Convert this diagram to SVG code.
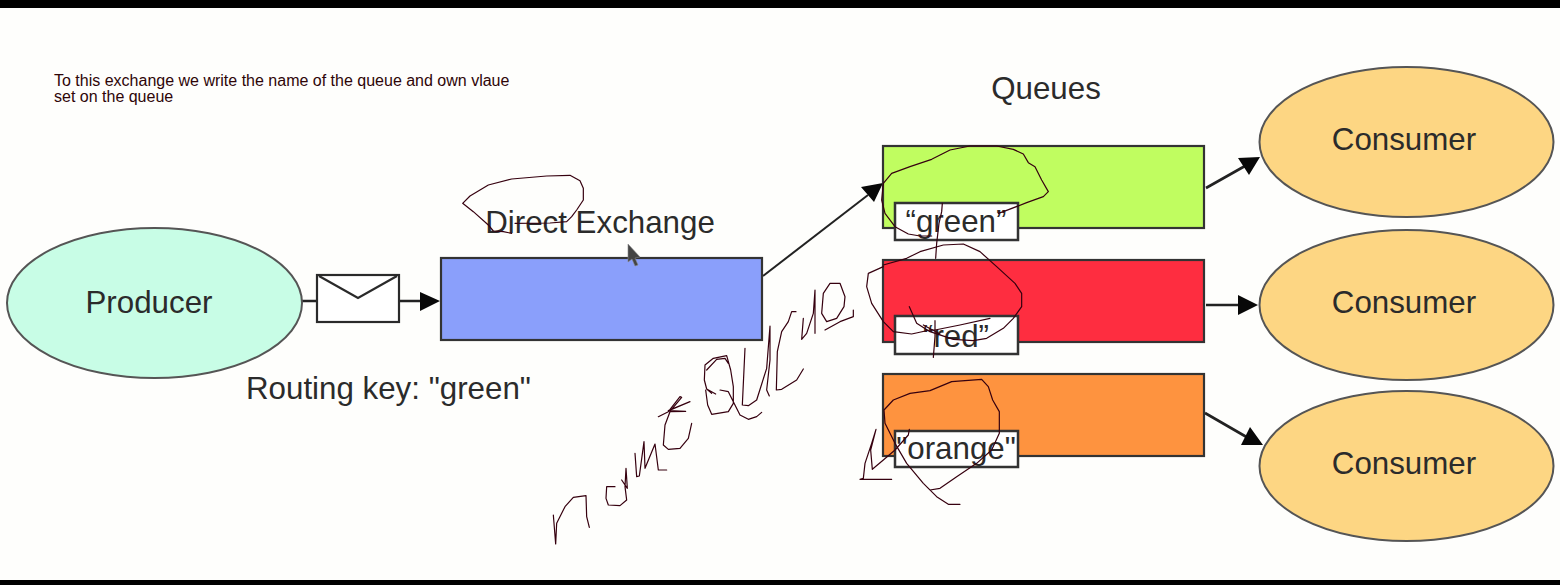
<svg xmlns="http://www.w3.org/2000/svg" width="1560" height="585" viewBox="0 0 1560 585">
<defs><style>
text{font-family:"Liberation Sans",Arial,sans-serif;fill:#2b2b2b;font-size:31.300px}
.c{text-anchor:middle}
.el{stroke:#555;stroke-width:2}
.cons{fill:#fdd683}
.box{stroke:#333;stroke-width:2.2}
.lab{fill:#fff;stroke:#333;stroke-width:2.500}
.line{fill:none;stroke:#222;stroke-width:2.600}
.thin{stroke-width:2}
.head{fill:#080808}
.ink{fill:none;stroke:#36000f;stroke-width:3.600;stroke-linejoin:round;stroke-linecap:round}
.note{font-size:16px;fill:#2e0508}
</style></defs>
<rect width="1560" height="585" fill="#fefefc"/>
<rect width="1560" height="8" fill="#000"/>
<rect y="580" width="1560" height="5" fill="#000"/>
<g id="note"><text class="note" x="54" y="86">To this exchange we write the name of the queue and own vlaue</text><text class="note" x="54" y="102">set on the queue</text></g>
<g id="connectors">
<path class="line" d="M302 301H317M399 301H422M1206 188L1245 166M1206 305H1240M1205 413L1250 439"/>
<path class="line thin" d="M763 276L868 195"/>
<path class="head" d="M420 292L440 301L420 311ZM883 183L861 187L874 202ZM1260 157L1238 158L1249 175ZM1258 305L1238 295L1238 315ZM1263 445L1250 427L1241 445Z"/>
</g>
<g id="producer"><ellipse class="el" cx="154.500" cy="303" rx="147.500" ry="75" fill="#c8fde6"/><text class="c" x="149" y="313">Producer</text></g>
<g id="envelope"><rect x="317" y="275" width="82" height="47" fill="#fff" stroke="#2a2a2a" stroke-width="2.200"/><path d="M319 276L358 298L397 276" fill="none" stroke="#2a2a2a" stroke-width="2.200"/></g>
<g id="exchange"><rect class="box" x="441" y="258" width="321" height="82" fill="#8a9ffb"/><text class="c" x="600" y="233">Direct Exchange</text></g>
<g id="routing-key"><text x="246" y="399">Routing key: "green"</text></g>
<g id="queues-title"><text class="c" x="1046" y="99">Queues</text></g>
<g id="queue-green"><rect class="box" x="883" y="146" width="321" height="82" fill="#c0fd60"/><rect class="lab" x="895" y="203" width="123" height="37"/><text class="c" x="956" y="232">“green”</text></g>
<g id="queue-red"><rect class="box" x="883" y="260" width="321" height="82" fill="#fe2d40"/><rect class="lab" x="895" y="316" width="123" height="38"/><text class="c" x="956" y="347">“red”</text></g>
<g id="queue-orange"><rect class="box" x="883" y="374" width="321" height="82" fill="#fe933f"/><rect class="lab" x="895" y="431" width="123" height="36"/><text class="c" x="956" y="459">"orange"</text></g>
<g id="consumer-1"><ellipse class="el cons" cx="1406.500" cy="142" rx="147" ry="75"/><text class="c" x="1404" y="150">Consumer</text></g>
<g id="consumer-2"><ellipse class="el cons" cx="1406.500" cy="305" rx="147" ry="75"/><text class="c" x="1404" y="313">Consumer</text></g>
<g id="consumer-3"><ellipse class="el cons" cx="1406.500" cy="466" rx="147" ry="75"/><text class="c" x="1404" y="474">Consumer</text></g>
<polygon points="628,244 628,262 632,259 635,266 638,265 635,258 640,257" fill="#444" stroke="#888" stroke-width=".6"/>
<g id="handwriting">
<g transform="translate(440 150) scale(.33333)"><path class="ink" d="M215 250L190 245L160 243L145 225L100 185L68 160L90 138L145 105L215 87L320 78L390 76L420 92L430 115L430 150L410 180L395 200L380 215L330 219L225 220"/></g>
<g transform="translate(840 130) scale(.33333)">
<path class="ink" d="M275 318L240 318L205 312L165 290L135 250L125 210L130 160L155 130L210 110L275 88L330 60L390 48L470 48L520 58L550 72L565 98L585 110L605 150L625 185L610 200L560 218L490 245L475 250"/>
<path class="ink" d="M307 220L305 245L297 280L290 340L287 385"/>
<path class="ink" d="M130 405L200 385L240 365L310 345L370 342L420 365L470 410L525 460L545 490L545 530L520 565L490 595L440 625L400 632L340 628L270 605L230 580L208 530"/>
<path class="ink" d="M130 410L85 430L80 470L95 520L130 575L160 605L215 612L270 600L285 600L360 585L450 565"/>
<path class="ink" d="M285 572L285 620L280 682M250 585L300 612"/>
</g>
<g transform="translate(840 360) scale(.33333)">
<path class="ink" d="M360 433L325 433L290 410L250 370L200 310L165 250L135 190L132 150L160 120L210 100L270 92L335 65L425 58L445 80L458 120L478 155L478 220L455 270L410 310L350 350L300 385L270 390"/>
<path class="ink" d="M208 208L205 225L165 270L130 300L97 328L92 270L108 208L95 250L75 310L70 355L60 358L155 358"/>
</g>
<g transform="translate(540 290) scale(.33333)">
<path class="ink" d="M40 675L47 762L50 700L75 650L100 622L138 617L140 680L148 712"/>
<path class="ink" d="M245 570L262 595L258 535L255 590L260 630L240 647L205 645L198 625L200 590L225 590"/>
<path class="ink" d="M285 490L290 560L298 558L312 455L315 535L345 462L355 540L380 540"/>
<path class="ink" d="M355 380L385 365L420 320L425 322L395 358L450 335L385 362L437 364L390 365L375 405L370 465L385 478L420 475L445 445L455 400"/>
<path class="ink" d="M515 310L500 297L493 270L495 225L520 205L560 197L572 240L580 290L580 340L565 365L515 373L503 345L497 300M500 240L530 208L555 205L565 220M500 297L527 312M540 300L565 305L580 335L600 375L625 388L650 380L665 367"/>
<path class="ink" d="M615 175L607 345L625 347L650 330L680 235L690 108L690 210L680 300L688 318"/>
<path class="ink" d="M790 237L770 270L725 298L709 300L712 185L725 125L745 95L755 65L768 65"/>
<path class="ink" d="M790 85L785 148L800 130L820 70L825 0L825 130"/>
<path class="ink" d="M845 70L850 10L870 -20L900 -20L915 20L912 50L890 85L860 95L845 70M940 60L940 80L900 95L855 120"/>
</g>
</g>
</svg>
